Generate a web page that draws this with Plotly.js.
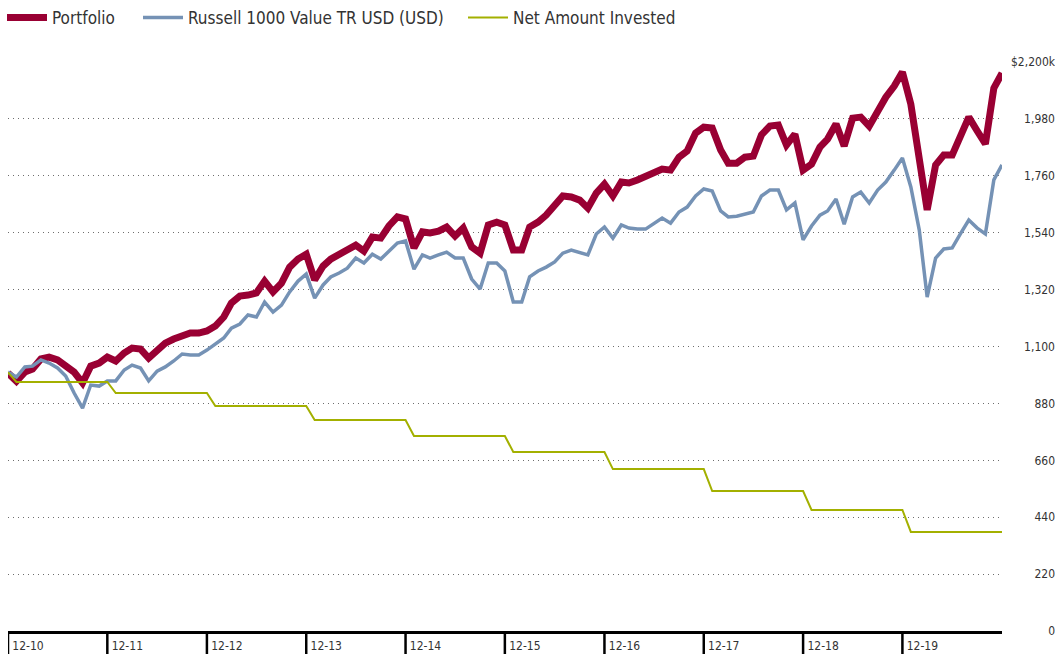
<!DOCTYPE html>
<html>
<head>
<meta charset="utf-8">
<script src="https://cdn.plot.ly/plotly-3.0.1.min.js"></script>
<style>
  html, body { margin: 0; padding: 0; background: #fff; }
  #chart { width: 1055px; height: 654px; }
</style>
</head>
<body>
<div id="chart"></div>
<script>
// ---- DATA (values in $ thousands) ----
// monthly points, Dec 2010 .. Dec 2020
var portfolio = [
  997, 966, 1001, 1013, 1052, 1059, 1048, 1024, 1001, 959,
  1024, 1036, 1059, 1044, 1075, 1094, 1090, 1055, 1086, 1113,
  1129, 1144, 1152, 1152, 1160, 1179, 1214, 1268, 1295, 1299,
  1307, 1353, 1311, 1345, 1407, 1438, 1457, 1357, 1411, 1438,
  1457, 1477, 1492, 1469, 1523, 1519, 1566, 1601, 1593, 1481,
  1543, 1539, 1546, 1562, 1527, 1558, 1485, 1461, 1570, 1581,
  1570, 1473, 1473, 1562, 1581, 1608, 1647, 1682, 1678, 1666,
  1635, 1693, 1728, 1682, 1736, 1732, 1744, 1759, 1771, 1786,
  1782, 1832, 1856, 1925, 1948, 1945, 1860, 1809, 1809, 1832,
  1836, 1918, 1952, 1956, 1879, 1921, 1782, 1805, 1871, 1902,
  1960, 1875, 1983, 1987, 1952, 2014, 2064, 2107, 2161, 2037,
  1840, 1628, 1802, 1840, 1840, 1906, 1987, 1933, 1883, 2099, 2157
];
var russell = [
  1001, 982, 1021, 1024, 1048, 1036, 1017, 986, 920, 862,
  951, 947, 967, 967, 1009, 1028, 1017, 967, 1005, 1021,
  1044, 1071, 1067, 1067, 1086, 1110, 1133, 1171, 1187, 1222,
  1214, 1272, 1233, 1260, 1311, 1353, 1380, 1287, 1338, 1369,
  1384, 1403, 1442, 1423, 1457, 1438, 1469, 1500, 1508, 1399,
  1454, 1442, 1454, 1465, 1442, 1442, 1361, 1322, 1423, 1423,
  1392, 1272, 1272, 1369, 1392, 1407, 1427, 1461, 1473, 1465,
  1454, 1535, 1562, 1519, 1570, 1558, 1554, 1554, 1577, 1597,
  1577, 1620, 1639, 1682, 1709, 1701, 1624, 1601, 1604, 1612,
  1620, 1682, 1705, 1705, 1628, 1655, 1512, 1566, 1608, 1624,
  1670, 1573, 1678, 1697, 1655, 1705, 1736, 1782, 1829, 1717,
  1550, 1291, 1442, 1477, 1481, 1535, 1589, 1558, 1535, 1744, 1802
];
// Net amount invested: points where the value changes
var netDates = [
  '2010-12-01', '2011-01-01', '2011-12-01', '2012-01-01', '2012-12-01',
  '2013-01-01', '2013-12-01', '2014-01-01', '2014-12-01', '2015-01-01',
  '2015-12-01', '2016-01-01', '2016-12-01', '2017-01-01', '2017-12-01',
  '2018-01-01', '2018-12-01', '2019-01-01', '2019-12-01', '2020-01-01',
  '2020-12-01'
];
var netValues = [
  1000, 963, 963, 920, 920,
  870, 870, 816, 816, 754,
  754, 692, 692, 626, 626,
  541, 541, 468, 468, 383,
  383
];
var seriesNames = ['Portfolio', 'Russell 1000 Value TR USD (USD)', 'Net Amount Invested'];
var xTickVals = ['2010-12-01', '2011-12-01', '2012-12-01', '2013-12-01', '2014-12-01',
                 '2015-12-01', '2016-12-01', '2017-12-01', '2018-12-01', '2019-12-01'];
var xTickText = ['12-10', '12-11', '12-12', '12-13', '12-14', '12-15', '12-16', '12-17', '12-18', '12-19'];
var yTickVals = [0, 220, 440, 660, 880, 1100, 1320, 1540, 1760, 1980, 2200];
var yTickText = ['0', '220', '440', '660', '880', '1,100', '1,320', '1,540', '1,760', '1,980', '$2,200k'];

// month axis (Dec 2010 .. Dec 2020)
var months = [];
for (var i = 0; i < portfolio.length; i++) {
  var m = 11 + i;
  var yr = 2010 + Math.floor(m / 12);
  var mo = (m % 12) + 1;
  months.push(yr + '-' + (mo < 10 ? '0' : '') + mo + '-01');
}

// ---- LAYOUT CONSTANTS ----
var W = 1055, H = 654;
var ML = 8, MR = 0, MT = 62, MB = 23;
var plotW = W - ML - MR, plotH = H - MT - MB;
var xEndPx = 1002;
var FONT = '"DejaVu Sans Condensed", "Liberation Sans Narrow", "Arial Narrow", sans-serif';
var TXT = '#333333';
var colors = ['#990033', '#7592b5', '#a3b000'];

var traces = [
  { x: months, y: portfolio, name: seriesNames[0], type: 'scatter', mode: 'lines',
    line: { color: colors[0], width: 7 }, legend: 'legend' },
  { x: months, y: russell, name: seriesNames[1], type: 'scatter', mode: 'lines',
    line: { color: colors[1], width: 3.5 }, legend: 'legend2' },
  { x: netDates, y: netValues, name: seriesNames[2], type: 'scatter', mode: 'lines',
    line: { color: colors[2], width: 2 }, legend: 'legend3', yaxis: 'y2' }
];

var shapes = xTickVals.map(function (v) {
  return { type: 'line', xref: 'x', yref: 'paper', x0: v, x1: v, y0: 0, y1: -(H - 631) / plotH,
           line: { color: '#000', width: 2.5 } };
});

function legendX(px) { return (px - ML) / plotW; }
var legY = (631 - 18) / plotH;
function legendCfg(px) {
  return { orientation: 'h', x: legendX(px), xanchor: 'left', y: legY, yanchor: 'middle',
           font: { family: FONT, size: 17, color: TXT }, itemwidth: 40,
           bgcolor: 'rgba(0,0,0,0)', borderwidth: 0 };
}

var layout = {
  width: W, height: H,
  margin: { l: ML, r: MR, t: MT, b: MB, pad: 0 },
  paper_bgcolor: '#fff', plot_bgcolor: '#fff',
  font: { family: FONT, size: 12, color: TXT },
  showlegend: true,
  legend: legendCfg(2),
  legend2: legendCfg(138),
  legend3: legendCfg(463),
  xaxis: {
    type: 'date',
    domain: [0, (xEndPx - ML) / plotW],
    range: ['2010-12-01', '2020-12-01'],
    tickmode: 'array', tickvals: xTickVals, ticktext: xTickText,
    ticks: '', showgrid: false, zeroline: false,
    showline: true, linecolor: '#000', linewidth: 3,
    ticklabelshift: 20, ticklabelstandoff: 2,
    tickfont: { family: FONT, size: 12, color: TXT },
    fixedrange: true
  },
  yaxis: {
    range: [0, 2200],
    tickmode: 'array', tickvals: yTickVals,
    showticklabels: false, ticks: '',
    showgrid: true, gridcolor: '#6e6e6e', gridwidth: 1, griddash: '1px,4px',
    zeroline: false, showline: false, fixedrange: true
  },
  yaxis2: {
    overlaying: 'y', anchor: 'free', position: 1, side: 'left',
    range: [0, 2200],
    tickmode: 'array', tickvals: yTickVals, ticktext: yTickText,
    ticks: '', showgrid: false, zeroline: false, showline: false,
    tickfont: { family: FONT, size: 12, color: TXT },
    fixedrange: true
  },
  shapes: shapes
};

Plotly.newPlot('chart', traces, layout, { displayModeBar: false, staticPlot: true });
</script>
</body>
</html>
